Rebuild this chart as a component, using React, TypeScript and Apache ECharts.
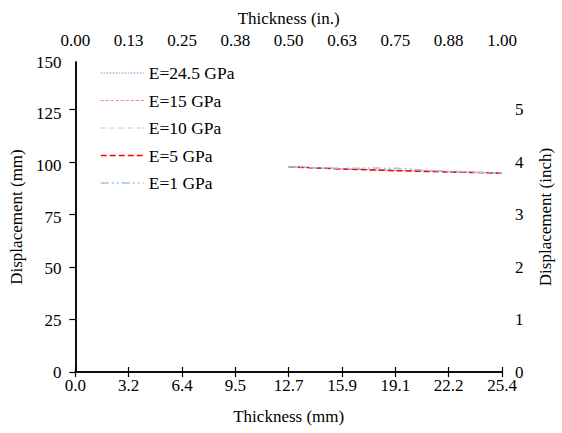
import React, { useEffect, useRef } from "react";
import * as echarts from "echarts";

const thicknessMm = [12.7, 14.3, 15.9, 17.5, 19.1, 20.6, 22.2, 23.8, 25.4];
const dispE245 = [99.4, 98.8, 98.3, 97.9, 97.6, 97.3, 96.9, 96.6, 96.3];
const dispE15 = [99.4, 98.8, 98.3, 97.9, 97.6, 97.3, 96.9, 96.6, 96.3];
const dispE10 = [99.4, 98.8, 98.3, 97.9, 97.6, 97.3, 96.9, 96.6, 96.3];
const dispE5 = [99.3, 98.7, 98.2, 97.8, 97.4, 97.1, 96.8, 96.5, 96.2];
const dispE1 = [99.4, 98.9, 98.5, 98.7, 98.6, 97.8, 97.1, 96.7, 96.3];

const seriesNames = ["E=24.5 GPa", "E=15 GPa", "E=10 GPa", "E=5 GPa", "E=1 GPa"];
const bottomTickLabels = ["0.0", "3.2", "6.4", "9.5", "12.7", "15.9", "19.1", "22.2", "25.4"];
const topTickLabels = ["0.00", "0.13", "0.25", "0.38", "0.50", "0.63", "0.75", "0.88", "1.00"];
const leftTickLabels = ["0", "25", "50", "75", "100", "125", "150"];
const rightTickLabels = ["0", "1", "2", "3", "4", "5"];

const FONT = "'Liberation Serif', 'Times New Roman', serif";

export default function App() {
  const ref = useRef<HTMLDivElement>(null);
  useEffect(() => {
    document.body.style.margin = "0";
    const chart = echarts.init(ref.current!, null, { renderer: "svg" });
    const mk = (ys: number[]) => thicknessMm.map((x, i) => [x, ys[i]]);
    const styles = [
      { color: "#6A8FD6", type: [1.5, 1.5], width: 1 },
      { color: "#F08A8A", type: [3, 2], width: 1 },
      { color: "#B5CC8E", type: [4, 2, 1, 2], width: 1 },
      { color: "#FF0000", type: [6, 3], width: 1.5 },
      { color: "#9DC3E6", type: [8, 3, 2, 3, 2, 3], width: 1.5 },
    ];
    const datas = [dispE245, dispE15, dispE10, dispE5, dispE1];
    const labelStyle = { color: "#000", fontFamily: FONT, fontSize: 17 };
    chart.setOption({
      animation: false,
      backgroundColor: "#fff",
      textStyle: { fontFamily: FONT },
      grid: { left: 75, right: 53, top: 62, bottom: 61, containLabel: false },
      legend: {
        orient: "vertical",
        left: 95,
        top: 59,
        itemWidth: 43,
        itemHeight: 14,
        itemGap: 9.5,
        itemStyle: { opacity: 0 },
        textStyle: { ...labelStyle, fontSize: 17.5 },
        data: seriesNames.map((n, i) => ({
          name: n,
          itemStyle: { opacity: 0 },
          lineStyle: { color: styles[i].color, type: styles[i].type, width: styles[i].width },
        })),
      },
      xAxis: [
        {
          type: "value",
          position: "bottom",
          min: 0,
          max: 25.4,
          interval: 3.175,
          name: "Thickness (mm)",
          nameLocation: "middle",
          nameGap: 36,
          nameTextStyle: labelStyle,
          axisLine: { lineStyle: { color: "#000", width: 1.5 } },
          axisTick: { inside: true, length: 5, lineStyle: { color: "#000", width: 1.2 } },
          axisLabel: {
            ...labelStyle,
            margin: 5,
            formatter: (v: number) => bottomTickLabels[Math.round(v / 3.175)] ?? "",
          },
          splitLine: { show: false },
        },
        {
          type: "value",
          position: "top",
          min: 0,
          max: 1,
          interval: 0.125,
          name: "Thickness (in.)",
          nameLocation: "middle",
          nameGap: 35,
          nameTextStyle: labelStyle,
          axisLine: { lineStyle: { color: "#000", width: 1.5 } },
          axisTick: { inside: true, length: 5, lineStyle: { color: "#000", width: 1.2 } },
          axisLabel: {
            ...labelStyle,
            margin: 13,
            formatter: (v: number) => topTickLabels[Math.round(v / 0.125)] ?? "",
          },
          splitLine: { show: false },
        },
      ],
      yAxis: [
        {
          type: "value",
          position: "left",
          min: 0,
          max: 150,
          interval: 25,
          name: "Displacement (mm)",
          nameLocation: "middle",
          nameGap: 44,
          nameTextStyle: labelStyle,
          axisLine: { show: true, lineStyle: { color: "#000", width: 1.5 } },
          axisTick: { show: false },
          axisLabel: {
            ...labelStyle,
            margin: 14,
            formatter: (v: number) => leftTickLabels[Math.round(v / 25)] ?? "",
          },
          splitLine: { show: false },
        },
        {
          type: "value",
          position: "right",
          min: 0,
          max: 150 / 25.4,
          interval: 1,
          name: "Displacement (inch)",
          nameLocation: "middle",
          nameGap: 35,
          nameTextStyle: labelStyle,
          axisLine: { show: true, lineStyle: { color: "#000", width: 1.5 } },
          axisTick: { inside: true, length: 6, lineStyle: { color: "#000", width: 1.2 } },
          axisLabel: {
            ...labelStyle,
            margin: 13,
            showMaxLabel: false,
            formatter: (v: number) => (Math.abs(v - Math.round(v)) < 1e-6 ? rightTickLabels[Math.round(v)] ?? "" : ""),
          },
          splitLine: { show: false },
        },
      ],
      series: datas.map((d, i) => ({
        name: seriesNames[i],
        type: "line",
        xAxisIndex: 0,
        yAxisIndex: 0,
        data: mk(d),
        showSymbol: false,
        symbol: "none",
        lineStyle: { color: styles[i].color, type: styles[i].type, width: styles[i].width },
        itemStyle: { color: styles[i].color },
      })),
    });
    return () => chart.dispose();
  }, []);
  return <div ref={ref} style={{ width: 562, height: 433 }} />;
}
